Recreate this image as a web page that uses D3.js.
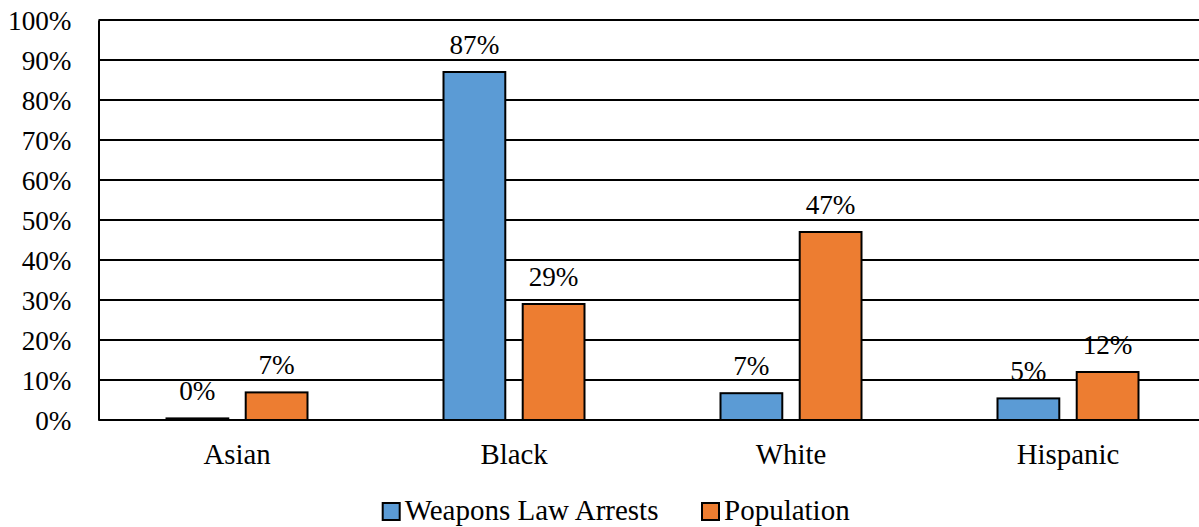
<!DOCTYPE html>
<html><head><meta charset="utf-8">
<script src="https://cdn.jsdelivr.net/npm/d3@7"></script>
<style>body{margin:0;background:#fff}svg{display:block}</style>
</head><body><svg id="c" width="1199" height="527"></svg>
<script>
const categories = ["Asian", "Black", "White", "Hispanic"];
const seriesNames = ["Weapons Law Arrests", "Population"];
const arrests = [0.4, 87, 6.7, 5.4];
const population = [6.9, 29, 47, 12];
const arrestLabels = ["0%", "87%", "7%", "5%"];
const populationLabels = ["7%", "29%", "47%", "12%"];
const yTicks = [0,10,20,30,40,50,60,70,80,90,100];
const colors = ["#5B9BD5", "#ED7D31"];

(function(){
const FONT = "'Liberation Serif', 'Times New Roman', serif";
const svg = d3.select("#c");
const pLeft = 98.5, pRight = 1206.5, pTop = 20, pBottom = 420;
const x = d3.scaleBand().domain(categories).range([pLeft, pRight]);
const x1 = d3.scaleBand().domain(seriesNames).range([0, 141]).paddingInner(0.22);
const y = d3.scaleLinear().domain([0, 100]).range([pBottom, pTop]);

svg.append("g").selectAll("line").data(yTicks).join("line")
  .attr("x1", pLeft).attr("x2", pRight).attr("y1", d=>y(d)).attr("y2", d=>y(d))
  .attr("stroke", "#000").attr("stroke-width", 2);
const yAxis = d3.axisLeft(y).tickValues(yTicks).tickFormat(d=>d+"%").tickSize(0).tickPadding(27);
const ga = svg.append("g").attr("transform", `translate(${pLeft},0)`).call(yAxis);
ga.select(".domain").attr("stroke", "#000").attr("stroke-width", 2);
ga.selectAll("text").attr("dy", null).attr("y", 9.3)
  .style("font-family", FONT).style("font-size", "27.2px").style("fill", "#000");

const data = categories.map((c,i)=>({cat:c, vals:[
  {s:seriesNames[0], v:arrests[i], l:arrestLabels[i], c:colors[0]},
  {s:seriesNames[1], v:population[i], l:populationLabels[i], c:colors[1]}]}));

const groupW = 141;
const g = svg.append("g").selectAll("g").data(data).join("g")
  .attr("transform", d=>`translate(${x(d.cat) + x.bandwidth()/2 - groupW/2},0)`);
g.selectAll("rect").data(d=>d.vals).join("rect")
  .attr("x", d=>x1(d.s)).attr("width", x1.bandwidth())
  .attr("y", d=>y(d.v)).attr("height", d=>pBottom - y(d.v))
  .attr("fill", d=>d.c).attr("stroke", "#000").attr("stroke-width", 2);
g.selectAll("text").data(d=>d.vals).join("text")
  .attr("x", d=>x1(d.s) + x1.bandwidth()/2).attr("y", d=>y(d.v) - 18)
  .attr("text-anchor", "middle").text(d=>d.l)
  .style("font-family", FONT).style("font-size", "27.2px").style("fill", "#000");

const xAxis = d3.axisBottom(x).tickSize(0);
const gx = svg.append("g").attr("transform", `translate(0,${pBottom})`).call(xAxis);
gx.select(".domain").remove();
gx.selectAll("text").attr("dy", null).attr("y", 44.3)
  .style("font-family", FONT).style("font-size", "28.8px").style("fill", "#000");

const legX = [382.7, 702];
const lg = svg.append("g").selectAll("g").data(seriesNames).join("g")
  .attr("transform", (d,i)=>`translate(${legX[i]},520)`);
lg.append("rect").attr("x", 0).attr("y", -17).attr("width", 17).attr("height", 17)
  .attr("fill", (d,i)=>colors[i]).attr("stroke", "#000").attr("stroke-width", 2);
lg.append("text").attr("x", 22).attr("y", 0).text(d=>d)
  .style("font-family", FONT).style("font-size", "29px").style("fill", "#000");
})();
</script></body></html>
